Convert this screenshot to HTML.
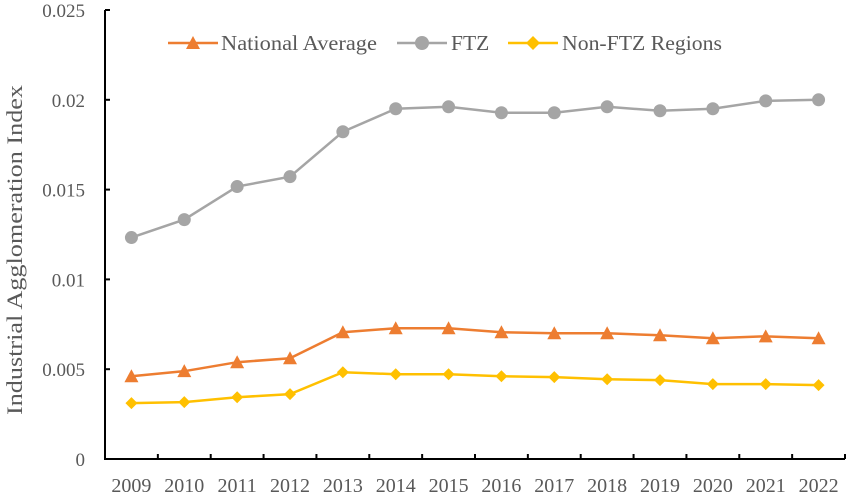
<!DOCTYPE html>
<html><head><meta charset="utf-8"><style>
body{margin:0;background:#fff;}
svg text{font-family:"Liberation Serif",serif;fill:#595959;}
</style></head><body>
<svg id="chart" width="851" height="497" viewBox="0 0 851 497" xmlns="http://www.w3.org/2000/svg">
<g id="axes"></g><g id="series"></g>
<g font-size="21.5">
 <g>
  <line x1="168" y1="43" x2="218" y2="43" stroke="#ED7D31" stroke-width="2.5"/>
  <polygon points="193,36 200,49 186,49" fill="#ED7D31"/>
  <text x="221" y="50" textLength="156" lengthAdjust="spacingAndGlyphs">National Average</text></g>
 <g>
  <line x1="397" y1="43" x2="447" y2="43" stroke="#A5A5A5" stroke-width="2.5"/>
  <circle cx="422" cy="43" r="7" fill="#A5A5A5"/>
  <text x="451" y="50">FTZ</text></g>
 <g>
  <line x1="508" y1="43" x2="558" y2="43" stroke="#FFC000" stroke-width="2.5"/>
  <polygon points="533,36 540,43 533,50 526,43" fill="#FFC000"/>
  <text x="562" y="50" textLength="160" lengthAdjust="spacingAndGlyphs">Non-FTZ Regions</text></g>
</g>
</svg>
<script>
const years=["2009","2010","2011","2012","2013","2014","2015","2016","2017","2018","2019","2020","2021","2022"];
const nationalAvg=[0.00461,0.00489,0.00539,0.00561,0.00706,0.00728,0.00728,0.00706,0.0070,0.0070,0.00689,0.00672,0.00683,0.00672];
const ftz=[0.01233,0.01333,0.01517,0.01572,0.01822,0.0195,0.01961,0.01928,0.01928,0.01961,0.01939,0.0195,0.01994,0.0200];
const nonFtz=[0.00311,0.00317,0.00344,0.00361,0.00483,0.00472,0.00472,0.00461,0.00456,0.00444,0.00439,0.00417,0.00417,0.00411];
const yTicks=[0,0.005,0.01,0.015,0.02,0.025];
const yTickLabels=["0","0.005","0.01","0.015","0.02","0.025"];
const NS="http://www.w3.org/2000/svg";
const x0=105,x1=845,yBase=459,yTop=10;
const xs=i=>x0+(x1-x0)/years.length*(i+0.5);
const ys=v=>yBase-(v/0.025)*(yBase-yTop);
function mk(t,a,p){const e=document.createElementNS(NS,t);for(const k in a)e.setAttribute(k,a[k]);p.appendChild(e);return e;}
const ax=document.getElementById('axes');
let yl=mk('line',{x1:x0,y1:yTop,x2:x0,y2:yBase,stroke:'#000','stroke-width':2},ax);


let xl=mk('line',{x1:x0-1,y1:yBase,x2:x1,y2:yBase,stroke:'#000','stroke-width':2},ax);


yTicks.forEach((v,i)=>{
 mk('line',{x1:x0,y1:ys(v),x2:x0+5,y2:ys(v),stroke:'#000','stroke-width':2},ax);
 const t=mk('text',{x:x0-20,y:ys(v)+7,'text-anchor':'end','font-size':19},ax);t.textContent=yTickLabels[i];
 
 });
for(let i=1;i<=years.length;i++){const bx=x0+(x1-x0)/years.length*i;mk('line',{x1:bx,y1:yBase,x2:bx,y2:yBase-5,stroke:'#000','stroke-width':2},ax);}
years.forEach((y,i)=>{const t=mk('text',{x:xs(i),y:492,'text-anchor':'middle','font-size':20},ax);t.textContent=y;

});
const yt=mk('text',{x:0,y:0,'text-anchor':'middle','font-size':22,textLength:330,lengthAdjust:'spacingAndGlyphs',transform:'translate(22,250) rotate(-90)'},ax);
yt.textContent='Industrial Agglomeration Index';


const sg=document.getElementById('series');
function series(data,color,shape,name){
 const g=mk('g',{},sg);
 
 
 mk('polyline',{points:data.map((v,i)=>xs(i)+','+ys(v)).join(' '),fill:'none',stroke:color,'stroke-width':2.5},g);
 data.forEach((v,i)=>{const cx=xs(i),cy=ys(v);let m;
  if(shape==='circle')m=mk('circle',{cx:cx,cy:cy,r:6.5,fill:color},g);
  else if(shape==='tri')m=mk('polygon',{points:`${cx},${cy-7} ${cx+7},${cy+6} ${cx-7},${cy+6}`,fill:color},g);
  else m=mk('polygon',{points:`${cx},${cy-6} ${cx+6},${cy} ${cx},${cy+6} ${cx-6},${cy}`,fill:color},g);
  
  });
}
series(ftz,'#A5A5A5','circle','series-ftz');
series(nationalAvg,'#ED7D31','tri','series-national-average');
series(nonFtz,'#FFC000','diamond','series-non-ftz-regions');
</script>
</body></html>
